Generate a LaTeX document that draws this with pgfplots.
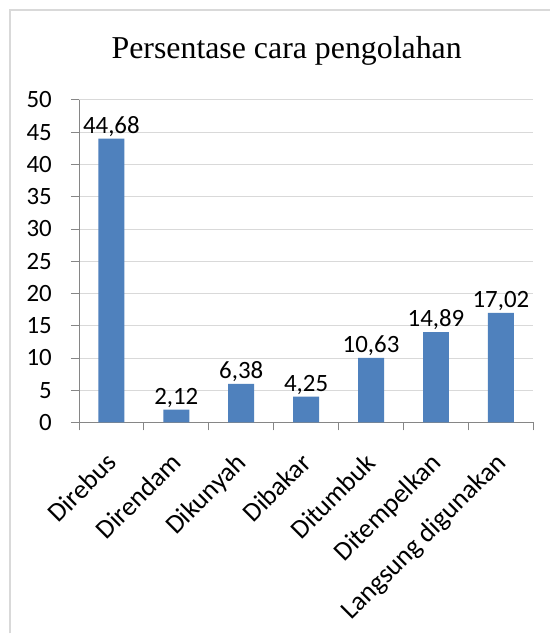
\documentclass[border=0pt]{standalone}
\usepackage{fontspec}
\setmainfont{Carlito}
\newfontfamily\titlefont{Liberation Serif}
\usepackage{pgfplots}
\pgfplotsset{compat=1.18}
\definecolor{barblue}{RGB}{79,129,189}
\definecolor{gridgray}{RGB}{217,217,217}
\definecolor{axisgray}{RGB}{134,134,134}
\begin{document}
\begin{tikzpicture}[x=1bp,y=1bp]
\fill[white] (0,0) rectangle (551,634);
\draw[gridgray, line width=1.5bp] (10,0) -- (10,624) -- (551,624);
\node[font=\titlefont\fontsize{32}{36}\selectfont, anchor=base] at (287,575) {Persentase cara pengolahan};
\begin{axis}[
  at={(79bp,211bp)}, anchor=south west,
  scale only axis, width=455bp, height=323bp,
  xmin=-0.5, xmax=6.5, ymin=0, ymax=50,
  axis x line*=bottom, axis y line*=left,
  axis line style={draw=axisgray, line width=0.8bp, -},
  ytick={0,5,...,50},
  ymajorgrids, major grid style={draw=gridgray, line width=0.8bp},
  tick align=outside,
  major tick length=8bp, minor tick length=8bp,
  every tick/.style={draw=axisgray, line width=0.8bp},
  xtick={0.1,1.1,2.1,3.1,4.1,5.1,6.1},
  major x tick style={draw=none},
  minor xtick={-0.5,0.5,...,6.5},
  xticklabels={Direbus,Direndam,Dikunyah,Dibakar,Ditumbuk,Ditempelkan,Langsung digunakan},
  xticklabel shift=34bp,
  x tick label style={rotate=45, anchor=base east, inner sep=0pt, outer sep=0pt, font=\fontsize{27}{31}\selectfont},
  y tick label style={font=\fontsize{25}{29}\selectfont, inner sep=2bp},
  yticklabel style={xshift=-17bp},
  /pgf/number format/assume math mode=true,
  point meta=explicit symbolic,
  nodes near coords,
  nodes near coords style={font=\fontsize{25}{29}\selectfont, inner sep=2bp},
  clip=false,
]
\addplot[ybar, bar width=26bp, fill=barblue, draw=none] table[x=x, y=y, meta=label] {
x y label
0 44 44,68
1 2 2,12
2 6 6,38
3 4 4,25
4 10 10,63
5 14 14,89
6 17 17,02
};
\end{axis}
\end{tikzpicture}
\end{document}
